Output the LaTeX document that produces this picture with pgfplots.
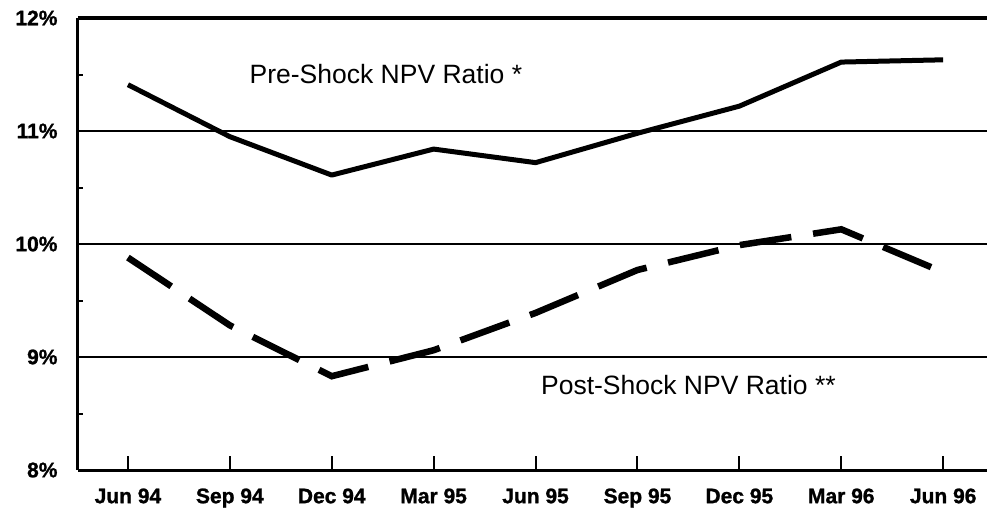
\documentclass[border=0pt]{standalone}
\usepackage{fontspec}
\setmainfont{Liberation Sans}
\newfontfamily\heavyfont{Liberation Sans Bold}[FakeBold=1.2]
\usepackage{pgfplots}
\pgfplotsset{compat=1.18}
\begin{document}
\begin{tikzpicture}[x=1pt,y=1pt]
\path[use as bounding box] (-78,-42) rectangle (909,470);
\begin{axis}[
  at={(0,0)}, anchor=south west,
  scale only axis, width=909pt, height=452pt,
  xmin=-0.49, xmax=8.43, ymin=8, ymax=12,
  axis x line*=bottom, axis y line*=left,
  axis line style={line width=3pt, -},
  xtick={0,...,8},
  xticklabels={Jun 94,Sep 94,Dec 94,Mar 95,Jun 95,Sep 95,Dec 95,Mar 96,Jun 96},
  ytick={8,9,10,11,12},
  yticklabels={8\%,9\%,10\%,11\%,12\%},
  minor ytick={8.5,9.5,10.5,11.5},
  tick style={black, line width=2pt},
  major tick length=14pt, minor tick length=5pt,
  tick align=inside,
  every major y tick/.append style={draw=none},
  ymajorgrids, major grid style={black, line width=1.5pt},
  tick label style={font=\heavyfont\fontsize{21}{21}\selectfont},
  xticklabel style={yshift=-15pt},
  yticklabel style={xshift=-17pt},
  clip=false,
]
\addplot[black, line width=5pt, line join=round] coordinates {
 (0,11.41) (1,10.95) (2,10.61) (3,10.84) (4,10.72) (5,10.98) (6,11.22) (7,11.61) (8,11.63)};
\addplot[black, line width=6.5pt, dash pattern=on 52pt off 22pt] coordinates {
 (0,9.88) (1,9.28) (2,8.83) (3,9.06) (4,9.39) (5,9.77) (6,9.99) (7,10.13) (8,9.75)};
\draw[line width=4pt] (rel axis cs:0,1) -- (rel axis cs:1,1);
\node[anchor=west, font=\fontsize{26.5}{26.5}\selectfont] at (axis cs:1.16,11.5) {Pre-Shock NPV Ratio *};
\node[anchor=west, font=\fontsize{26.5}{26.5}\selectfont] at (axis cs:4.02,8.75) {Post-Shock NPV Ratio **};
\end{axis}
\end{tikzpicture}
\end{document}
